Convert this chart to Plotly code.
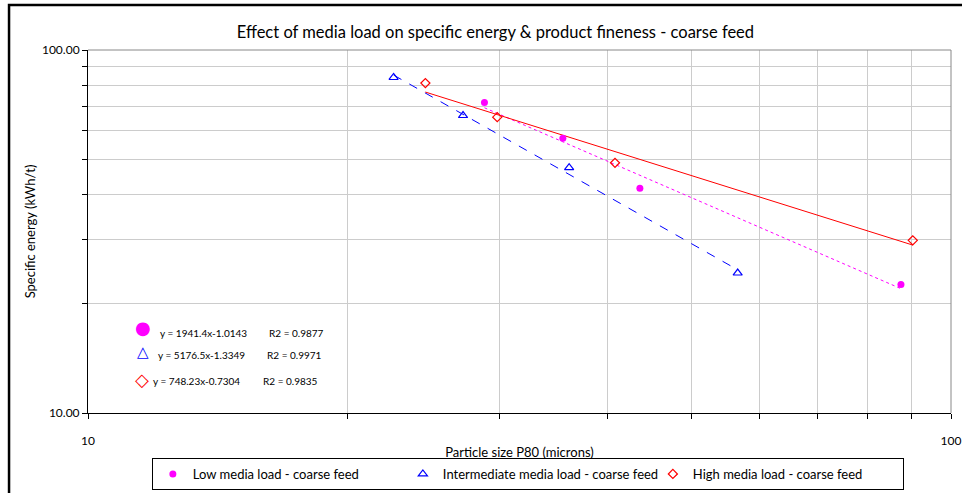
import numpy as np
import plotly.graph_objects as go

# ---- data ----
low_x = [28.8, 35.5, 43.6, 87.5]
low_y = [71.7, 57.1, 41.6, 22.6]
int_x = [22.6, 27.2, 36.1, 56.6]
int_y = [84.0, 66.0, 47.4, 24.3]
high_x = [24.6, 29.8, 40.8, 90.3]
high_y = [81.1, 65.3, 48.9, 29.9]

series_names = ["Low media load - coarse feed",
                "Intermediate media load - coarse feed",
                "High media load - coarse feed"]
equations = ["y = 1941.4x-1.0143", "y = 5176.5x-1.3349", "y = 748.23x-0.7304"]
r2_texts = ["R2 = 0.9877", "R2 = 0.9971", "R2 = 0.9835"]

tick_vals = [10, 20, 30, 40, 50, 60, 70, 80, 90, 100]
x_tick_text = ["10", "", "", "", "", "", "", "", "", "100"]
y_tick_text = ["10.00", "", "", "", "", "", "", "", "", "100.00"]

FONT = "Lato, Liberation Sans, sans-serif"


def power_trend(xs, ys):
    lx, ly = np.log10(xs), np.log10(ys)
    b, a = np.polyfit(lx, ly, 1)
    ex = np.array([min(xs), max(xs)])
    return ex, 10 ** (a + b * np.log10(ex))


fig = go.Figure()

specs = [
    (low_x, low_y, "#ff00ff", dict(symbol="circle", size=7, color="#ff00ff"), "dot"),
    (int_x, int_y, "#0000ff", dict(symbol="triangle-up-open", size=8, color="#0000ff", line=dict(width=1.2)), "dash"),
    (high_x, high_y, "#ff0000", dict(symbol="diamond-open", size=7, color="#ff0000", line=dict(width=1.2)), "solid"),
]

for (xs, ys, col, mk, dash), name in zip(specs, series_names):
    tx, ty = power_trend(xs, ys)
    fig.add_trace(go.Scatter(x=tx, y=ty, mode="lines", showlegend=False, hoverinfo="skip",
                             line=dict(color=col, width=1, dash=dash)))
for (xs, ys, col, mk, dash), name in zip(specs, series_names):
    fig.add_trace(go.Scatter(x=xs, y=ys, mode="markers", name=name, marker=mk))

axis_common = dict(type="log", range=[1, 2], tickvals=tick_vals, showgrid=True,
                   gridcolor="#cccccc", gridwidth=1, showline=True, linecolor="#000000",
                   linewidth=1, ticks="outside", ticklen=5, tickcolor="#000000",
                   zeroline=False, tickfont=dict(family=FONT, size=12, color="#000"))

fig.update_xaxes(**axis_common, ticktext=x_tick_text, ticklabelstandoff=12,
                 title=dict(text="Particle size P80 (microns)", font=dict(family=FONT, size=13, color="#000"),
                            standoff=0))
fig.update_yaxes(**axis_common, ticktext=y_tick_text,
                 title=dict(text="Specific energy (kWh/t)", font=dict(family=FONT, size=13, color="#000"),
                            standoff=3))

annotations = []
sym_specs = [("●", "#ff00ff", 0.0637, 0.2366, 18),
             ("△", "#0000ff", 0.0637, 0.1678, 15),
             ("◇", "#ff0000", 0.0626, 0.0935, 18)]
eq_pos = [(0.0811, 0.220, 0.2074), (0.0788, 0.1596, 0.2051), (0.0730, 0.088, 0.2005)]
for (s, c, sx, sy, fs), (ex, ey, rx), eq, r2 in zip(sym_specs, eq_pos, equations, r2_texts):
    annotations.append(dict(text=s, x=sx, y=sy, xref="paper", yref="paper", showarrow=False,
                            xanchor="center", yanchor="middle",
                            font=dict(size=fs, color=c, family="DejaVu Sans")))
    annotations.append(dict(text=eq, x=ex, y=ey, xref="paper", yref="paper", showarrow=False,
                            xanchor="left", yanchor="middle",
                            font=dict(size=10, color="#000", family=FONT)))
    annotations.append(dict(text=r2, x=rx, y=ey, xref="paper", yref="paper", showarrow=False,
                            xanchor="left", yanchor="middle",
                            font=dict(size=10, color="#000", family=FONT)))

shapes = [
    # grey top and right border of plot area
    dict(type="line", xref="paper", yref="paper", x0=0, x1=1, y0=1, y1=1, line=dict(color="#888888", width=1)),
    dict(type="line", xref="paper", yref="paper", x0=1, x1=1, y0=0, y1=1, line=dict(color="#888888", width=1)),
    # outer chart frame (cropped in reference)
    dict(type="rect", xref="paper", yref="paper", x0=-0.0915, x1=1.05, y0=-0.26, y1=1.124,
         line=dict(color="#000000", width=2.5)),
]

fig.update_layout(
    width=962, height=493, autosize=False,
    margin=dict(l=88, r=11, t=49.5, b=80, autoexpand=False),
    paper_bgcolor="#ffffff", plot_bgcolor="#ffffff",
    title=dict(text="Effect of media load on specific energy & product fineness - coarse feed",
               x=0.515, xanchor="center", y=0.935, yanchor="middle",
               font=dict(family=FONT, size=16.5, color="#000")),
    font=dict(family=FONT, size=12, color="#000"),
    legend=dict(orientation="h", x=0.074, xanchor="left", y=-0.124, yanchor="top",
                bordercolor="#000000", borderwidth=1, bgcolor="#ffffff",
                font=dict(family=FONT, size=13, color="#000"), itemwidth=30,
                entrywidth=205, entrywidthmode="pixels"),
    annotations=annotations,
    shapes=shapes,
)

fig.write_html("out.html", config={"displayModeBar": False},
               post_script="document.body.style.margin='0';")
